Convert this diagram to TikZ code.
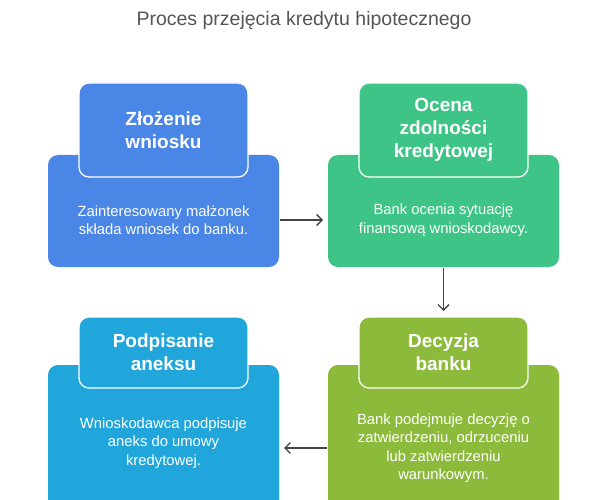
\documentclass[tikz,border=0pt]{standalone}
\usepackage{fontspec}
\setmainfont{Liberation Sans}
\usetikzlibrary{arrows.meta}
\definecolor{cblue}{HTML}{4A86E6}
\definecolor{cgreen}{HTML}{3EC486}
\definecolor{ccyan}{HTML}{20A6DB}
\definecolor{colive}{HTML}{8CBA3A}
\definecolor{ctitle}{HTML}{555555}
\definecolor{carrow}{HTML}{444444}
\tikzset{
  bodybox/.style={rounded corners=10pt, line width=0pt},
  headbox/.style={rounded corners=10pt, draw=white, line width=1.3pt},
  headtxt/.style={text=white, font=\bfseries\fontsize{19}{23}\selectfont, align=center},
  bodytxt/.style={text=white, font=\fontsize{14.8}{18.5}\selectfont, align=center},
  conn/.style={draw=carrow, line width=1.4pt, -{Straight Barb[length=5.5pt,width=11pt]}}
}
\begin{document}
\begin{tikzpicture}[x=1pt,y=-1pt]
\useasboundingbox (0,0) rectangle (608,500);
\clip (0,0) rectangle (608,500);
\fill[white] (0,0) rectangle (608,500);
\node[text=ctitle, font=\fontsize{19.5}{23}\selectfont] (title) at (304,20) {Proces przejęcia kredytu hipotecznego};
% top-left
\fill[cblue, bodybox] (48,155) rectangle (279,267);
\path[fill=cblue, headbox] (79,83) rectangle (248,177);
\node[headtxt] (h1) at (163.5,130) {Złożenie\\wniosku};
\node[bodytxt] (b1) at (163.5,220) {Zainteresowany małżonek\\składa wniosek do banku.};
\coordinate (r1) at (280,220);
% top-right
\fill[cgreen, bodybox] (328,155) rectangle (559,267);
\path[fill=cgreen, headbox] (359,83) rectangle (528,177);
\node[headtxt] (h2) at (443.5,130) {Ocena\\zdolności\\kredytowej};
\node[bodytxt] (b2) at (443.5,220) {Bank ocenia sytuację\\finansową wnioskodawcy.};
\coordinate (l2) at (323,220);
\coordinate (d2) at (443.5,268);
% bottom-right
\fill[colive, bodybox] (328,365) rectangle (559,520);
\path[fill=colive, headbox] (359,317) rectangle (528,388);
\node[headtxt] (h3) at (443.5,352) {Decyzja\\banku};
\node[bodytxt] (b3) at (443.5,448) {Bank podejmuje decyzję o\\zatwierdzeniu, odrzuceniu\\lub zatwierdzeniu\\warunkowym.};
\coordinate (u3) at (443.5,311);
\coordinate (l3) at (327,448);
% bottom-left
\fill[ccyan, bodybox] (48,365) rectangle (279,520);
\path[fill=ccyan, headbox] (79,317) rectangle (248,388);
\node[headtxt] (h4) at (163.5,352) {Podpisanie\\aneksu};
\node[bodytxt] (b4) at (163.5,443) {Wnioskodawca podpisuje\\aneks do umowy\\kredytowej.};
\coordinate (r4) at (284,448);
% connectors
\draw[conn] (r1) -- (l2);
\draw[conn] (d2) -- (u3);
\draw[conn] (l3) -- (r4);
\end{tikzpicture}
\end{document}
